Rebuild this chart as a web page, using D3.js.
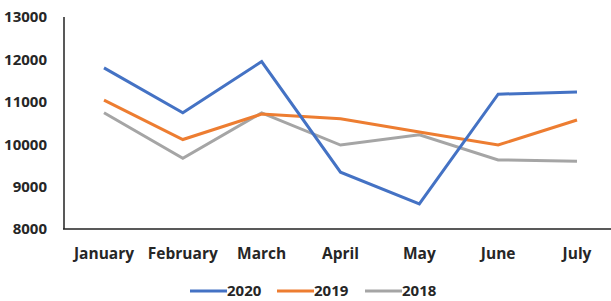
<!DOCTYPE html>
<html><head><meta charset="utf-8">
<script src="https://cdn.jsdelivr.net/npm/d3@7"></script>
<style>body{margin:0;background:#fff}svg{display:block}text{font-family:"Open Sans",Lato,sans-serif;font-weight:bold;fill:#262626}</style>
</head><body><svg id="c" width="611" height="301"></svg>
<script>
const months = ["January","February","March","April","May","June","July"];
const s2020 = [11800,10740,11950,9340,8590,11180,11230];
const s2019 = [11040,10110,10710,10600,10290,9980,10570];
const s2018 = [10740,9670,10740,9980,10220,9630,9600];
const yTicks = [8000,9000,10000,11000,12000,13000];
const seriesNames = ["2020","2019","2018"];
const colors = ["#4472C4","#ED7D31","#A5A5A5"];
const series = [s2020,s2019,s2018];

const svg = d3.select("#c");
const x = d3.scalePoint().domain(months).range([104,577]);
const y = d3.scaleLinear().domain([8000,13000]).range([229,17]);

svg.append("g").selectAll("text").data(yTicks).join("text")
  .attr("x",47).attr("y",d=>y(d)).attr("dy","0.36em").attr("text-anchor","end")
  .attr("font-size",15).text(d=>d);
svg.append("g").selectAll("text").data(months).join("text")
  .attr("x",d=>x(d)).attr("y",259).attr("text-anchor","middle")
  .attr("font-size",15.5).text(d=>d);

const line = d3.line().x((d,i)=>x(months[i])).y(d=>y(d));
series.slice().reverse().forEach((s,k)=>{
  const i = series.length-1-k;
  svg.append("path").datum(s).attr("d",line).attr("fill","none")
    .attr("stroke",colors[i]).attr("stroke-width",3).attr("stroke-linejoin","miter");
});

svg.append("line").attr("x1",64).attr("x2",64).attr("y1",y(13000)).attr("y2",229).attr("stroke","#222").attr("stroke-width",1.5);
svg.append("line").attr("x1",63).attr("x2",611).attr("y1",229).attr("y2",229).attr("stroke","#222").attr("stroke-width",1.5);

const lg = svg.append("g");
const lx = [190,277,365];
seriesNames.forEach((n,i)=>{
  lg.append("line").attr("x1",lx[i]).attr("x2",lx[i]+37).attr("y1",291).attr("y2",291)
    .attr("stroke",colors[i]).attr("stroke-width",3);
  lg.append("text").attr("x",lx[i]+37).attr("y",296).attr("font-size",15).text(n);
});
</script></body></html>
